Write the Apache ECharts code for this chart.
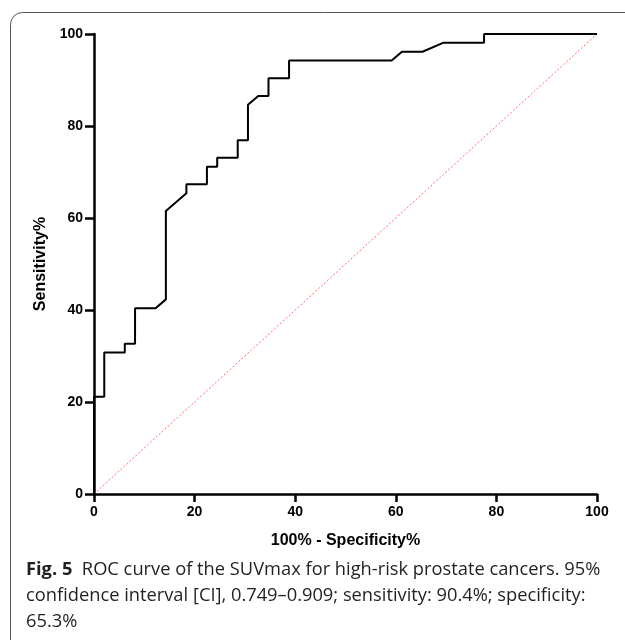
<!DOCTYPE html>
<html>
<head>
<meta charset="utf-8">
<script src="https://cdn.jsdelivr.net/npm/echarts@6/dist/echarts.min.js"></script>
<style>
html, body { margin: 0; padding: 0; background: #fff; }
#chart { width: 625px; height: 640px; }
</style>
</head>
<body>
<div id="chart"></div>
<script>
// ROC curve, 100% - specificity vs sensitivity
var fpr  = [0, 0, 2.04, 2.04, 6.12, 6.12, 8.16, 8.16, 12.24, 14.29, 14.29, 18.37, 18.37, 22.45, 22.45, 24.49, 24.49, 28.57, 28.57, 30.61, 30.61, 32.65, 34.69, 34.69, 38.78, 38.78, 59.18, 61.22, 65.31, 69.39, 77.55, 77.55, 100];
var sens = [0, 21.15, 21.15, 30.77, 30.77, 32.69, 32.69, 40.38, 40.38, 42.31, 61.54, 65.38, 67.31, 67.31, 71.15, 71.15, 73.08, 73.08, 76.92, 76.92, 84.62, 86.54, 86.54, 90.38, 90.38, 94.23, 94.23, 96.15, 96.15, 98.08, 98.08, 100, 100];
var refX = [0, 100];
var refY = [0, 100];

var caption = [
	'{b|Fig. 5}  ROC curve of the SUVmax for high-risk prostate cancers. 95%',
	'confidence interval [CI], 0.749\u20130.909; sensitivity: 90.4%; specificity:',
	'65.3%'
].join('\n');

var rocData = fpr.map(function (x, i) { return [x, sens[i]]; });
var refData = refX.map(function (x, i) { return [x, refY[i]]; });

var axisFont = { color: '#000', fontFamily: 'Liberation Sans, Arial, sans-serif', fontWeight: 'bold', fontSize: 14 };
var nameFont = { color: '#000', fontFamily: 'Liberation Sans, Arial, sans-serif', fontWeight: 'bold', fontSize: 16 };

var myChart = echarts.init(document.getElementById('chart'));
var option = {
	backgroundColor: '#fff',
	animation: false,
	grid: { left: 94, right: 28, top: 34, bottom: 146, containLabel: false },
	xAxis: {
		type: 'value', min: 0, max: 100, interval: 20,
		name: '100% - Specificity%', nameLocation: 'middle', nameGap: 39,
		nameTextStyle: nameFont,
		axisLine: { lineStyle: { color: '#000', width: 2.5 } },
		axisTick: { show: true, length: 8, lineStyle: { color: '#000', width: 2.5 } },
		axisLabel: Object.assign({ margin: 11 }, axisFont),
		splitLine: { show: false }
	},
	yAxis: {
		type: 'value', min: 0, max: 100, interval: 20,
		name: 'Sensitivity%', nameLocation: 'middle', nameGap: 43, nameRotate: 90,
		nameTextStyle: nameFont,
		axisLine: { show: true, lineStyle: { color: '#000', width: 2.5 } },
		axisTick: { show: true, length: 9, lineStyle: { color: '#000', width: 2.5 } },
		axisLabel: Object.assign({ margin: 11 }, axisFont),
		splitLine: { show: false }
	},
	series: [
		{
			name: 'reference', type: 'line', data: refData, symbol: 'none',
			lineStyle: { color: '#ff6b6b', width: 1, type: [2, 2] }, z: 1
		},
		{
			name: 'ROC', type: 'line', data: rocData, symbol: 'none',
			lineStyle: { color: '#000', width: 2 }, z: 3
		}
	],
	graphic: [
		{
			type: 'rect', z: 0,
			shape: { x: 10.5, y: 12.5, width: 700, height: 700, r: 12 },
			style: { fill: 'none', stroke: '#555', lineWidth: 1 }
		},
		{
			type: 'text', left: 26, top: 557,
			style: {
				text: caption,
				fill: '#231f20',
				font: '18.3px "Open Sans", sans-serif',
				lineHeight: 26,
				rich: {
					b: { fontWeight: 'bold', fontSize: 18.3, fontFamily: 'Open Sans', fill: '#231f20' }
				}
			}
		}
	]
};
myChart.setOption(option);
window.addEventListener('resize', function () {
	myChart.resize();
});
</script>
</body>
</html>
